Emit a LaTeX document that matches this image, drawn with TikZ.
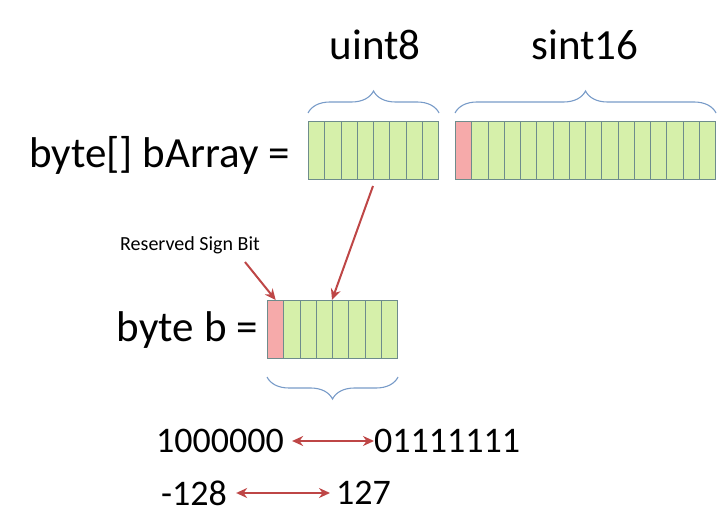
\documentclass[tikz,border=0pt]{standalone}
\usepackage{fontspec}
\setmainfont{Carlito}
\usetikzlibrary{decorations.pathreplacing,arrows.meta}
\definecolor{cellgreen}{RGB}{214,240,170}
\definecolor{cellred}{RGB}{246,170,170}
\definecolor{celledge}{RGB}{110,140,140}
\definecolor{bracecol}{RGB}{120,155,200}
\definecolor{arrowred}{RGB}{190,70,70}
\begin{document}
\begin{tikzpicture}[x=1pt,y=-1pt,
      cell/.style={draw=celledge, fill=cellgreen, minimum width=16.3pt, minimum height=58pt,
        inner sep=0pt, anchor=north west, line width=1pt},
      sign/.style={cell, fill=cellred},
      brace/.style={draw=bracecol, line width=1.1pt, decorate, decoration={brace, amplitude=22pt, aspect=0.5}},
      label/.style={font=\fontsize{43}{48}\selectfont, inner sep=0pt},
      num/.style={font=\fontsize{36}{40}\selectfont, inner sep=0pt},
      link/.style={draw=arrowred, line width=2pt, -{Stealth[length=11pt,width=10pt]}},
      swap/.style={draw=arrowred, line width=2pt, {Stealth[length=11pt,width=10pt]}-{Stealth[length=11pt,width=10pt]}}
      ]
  \useasboundingbox (0,0) rectangle (720,526);

  % the array
  \node[label, anchor=east] (arr) at (290,155) {byte[] bArray =};
  \foreach \i in {0,...,7}
    \node[cell] (u\i) at ({308+16.25*\i},121) {};
  \node[sign] (s0) at (455,121) {};
  \foreach \i in {1,...,15}
    \node[cell] (s\i) at ({455+16.25*\i},121) {};

  % the byte
  \node[label, anchor=east] (lb) at (258,330) {byte b =};
  \node[sign] (b0) at (267,300) {};
  \foreach \i in {1,...,7}
    \node[cell] (b\i) at ({267+16.25*\i},300) {};

  % braces
  \draw[brace] (u0.north west) ++(0,-8) coordinate (ua) -- (u7.north east |- ua);
  \draw[brace] (s0.north west) ++(0,-8) coordinate (sa) -- (s15.north east |- sa);
  \draw[brace] (b7.south east) ++(0,18) coordinate (ba) -- (b0.south west |- ba);
  \node[label] (tu) at (375,45) {uint8};
  \node[label] (ts) at (585,45) {sint16};

  % sign bit
  \node[font=\fontsize{20}{22}\selectfont, inner sep=0pt] (rsb) at (190,245) {Reserved Sign Bit};
  \draw[link] (245,262) -- (b0.north);
  \draw[link] (u4.south west) ++(0,6) -- (b4.north west);

  % values
  \node[num, anchor=west] (n1) at (156,441) {1000000};
  \node[num, anchor=west] (n2) at (374,441) {01111111};
  \draw[swap] (n1.east) ++(8,0) -- (n2.west);
  \node[num, anchor=west] (m1) at (161,493) {-128};
  \node[num, anchor=west] (m2) at (336,493) {127};
  \draw[swap] (m1.east) ++(9,0) -- ([xshift=-6pt]m2.west);
\end{tikzpicture}
\end{document}
